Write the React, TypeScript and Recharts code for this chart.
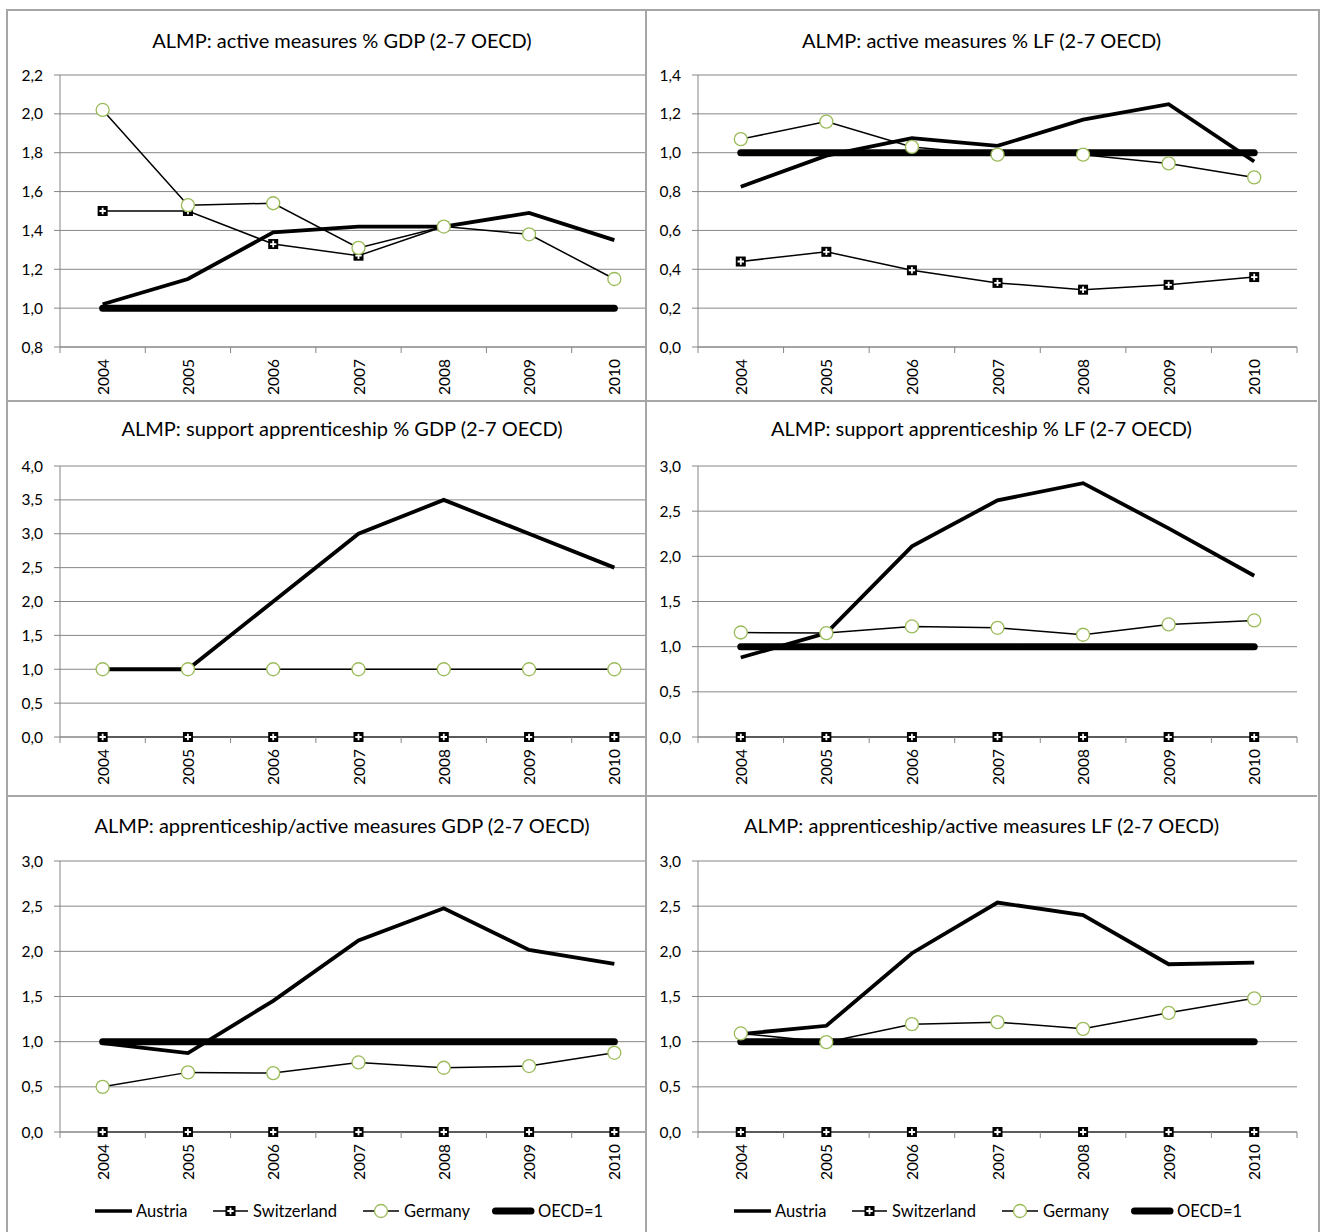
import React from 'react';
import { LineChart, Line, XAxis, YAxis, CartesianGrid } from 'recharts';

const years = [2004, 2005, 2006, 2007, 2008, 2009, 2010];
const xTicks = [2003.5, 2004, 2004.5, 2005, 2005.5, 2006, 2006.5, 2007, 2007.5, 2008, 2008.5, 2009, 2009.5, 2010, 2010.5];

// Panel 1: active measures % GDP
const p1Austria = [1.02, 1.15, 1.39, 1.42, 1.42, 1.49, 1.35];
const p1Switzerland = [1.5, 1.5, 1.33, 1.27, 1.42, null, null];
const p1Germany = [2.02, 1.53, 1.54, 1.31, 1.42, 1.38, 1.15];
const p1Oecd = [1, 1, 1, 1, 1, 1, 1];
const p1Ticks = [0.8, 1.0, 1.2, 1.4, 1.6, 1.8, 2.0, 2.2];

// Panel 2: active measures % LF
const p2Austria = [0.825, 0.985, 1.075, 1.035, 1.17, 1.25, 0.955];
const p2Switzerland = [0.44, 0.49, 0.395, 0.33, 0.295, 0.32, 0.36];
const p2Germany = [1.07, 1.16, 1.03, 0.99, 0.99, 0.945, 0.873];
const p2Oecd = [1, 1, 1, 1, 1, 1, 1];
const p2Ticks = [0, 0.2, 0.4, 0.6, 0.8, 1.0, 1.2, 1.4];

// Panel 3: support apprenticeship % GDP
const p3Austria = [1.0, 1.0, 2.0, 3.0, 3.5, 3.0, 2.5];
const p3Switzerland = [0, 0, 0, 0, 0, 0, 0];
const p3Germany = [1, 1, 1, 1, 1, 1, 1];
const p3Ticks = [0, 0.5, 1.0, 1.5, 2.0, 2.5, 3.0, 3.5, 4.0];

// Panel 4: support apprenticeship % LF
const p4Austria = [0.88, 1.15, 2.11, 2.62, 2.81, 2.31, 1.785];
const p4Switzerland = [0, 0, 0, 0, 0, 0, 0];
const p4Germany = [1.157, 1.15, 1.224, 1.209, 1.132, 1.246, 1.29];
const p4Oecd = [1, 1, 1, 1, 1, 1, 1];
const p4Ticks = [0, 0.5, 1.0, 1.5, 2.0, 2.5, 3.0];

// Panel 5: apprenticeship/active measures GDP
const p5Austria = [0.985, 0.874, 1.452, 2.12, 2.477, 2.016, 1.861];
const p5Switzerland = [0, 0, 0, 0, 0, 0, 0];
const p5Germany = [0.5, 0.66, 0.652, 0.77, 0.711, 0.73, 0.877];
const p5Oecd = [1, 1, 1, 1, 1, 1, 1];
const p5Ticks = [0, 0.5, 1.0, 1.5, 2.0, 2.5, 3.0];

// Panel 6: apprenticeship/active measures LF
const p6Austria = [1.084, 1.176, 1.979, 2.54, 2.4, 1.857, 1.876];
const p6Switzerland = [0, 0, 0, 0, 0, 0, 0];
const p6Germany = [1.091, 0.995, 1.194, 1.216, 1.142, 1.319, 1.48];
const p6Oecd = [1, 1, 1, 1, 1, 1, 1];
const p6Ticks = [0, 0.5, 1.0, 1.5, 2.0, 2.5, 3.0];

const legendLabels = ['Austria', 'Switzerland', 'Germany', 'OECD=1'];

const FONT = 'Lato, "Open Sans", sans-serif';
const GRID = '#868686';
const BORDER = '#a6a6a6';
const GREEN = '#9bbb59';

function buildRows(a: any[], s: any[], g: any[], o: any[] | null) {
  return years.map((y, i) => ({
    year: y,
    austria: a[i],
    switzerland: s[i],
    germany: g[i],
    oecd: o ? o[i] : null,
  }));
}

const rowsLayout = [
  { top: 10, h: 391, plotTop: 75, plotBottom: 347, titleY: 40 },
  { top: 401, h: 395, plotTop: 466, plotBottom: 737, titleY: 428 },
  { top: 796, h: 436, plotTop: 861, plotBottom: 1132, titleY: 825 },
];
const colsLayout = [
  { left: 7, w: 670, clipW: 639, plotLeft: 60, plotRight: 657 },
  { left: 646, w: 671, clipW: 671, plotLeft: 698, plotRight: 1297 },
];

const fmt = (v: number) => v.toFixed(1).replace('.', ',');

const XTick = (props: any) => {
  const { x, y, payload } = props;
  const v = payload.value;
  if (Number.isInteger(v)) {
    return (
      <text
        x={x}
        y={y}
        transform={`rotate(-90 ${x} ${y})`}
        textAnchor="end"
        dominantBaseline="central"
        fontSize={15.5}
        fontFamily={FONT}
        fill="#000"
      >
        {v}
      </text>
    );
  }
  return <line x1={x} x2={x} y1={y - 12} y2={y - 6} stroke={GRID} strokeWidth={1} />;
};

const SquareDot = (props: any) => {
  const { cx, cy } = props;
  if (cx == null || cy == null) return <g />;
  return (
    <g>
      <rect x={cx - 5} y={cy - 5} width={10} height={10} fill="#000" />
      <path d={`M${cx - 3.2} ${cy}H${cx + 3.2}M${cx} ${cy - 3.2}V${cy + 3.2}`} stroke="#fff" strokeWidth={1.8} />
    </g>
  );
};

const CircleDot = (props: any) => {
  const { cx, cy } = props;
  if (cx == null || cy == null) return <g />;
  return <circle cx={cx} cy={cy} r={6.5} fill="#fff" stroke={GREEN} strokeWidth={1.3} />;
};

function LegendRow() {
  const items = [
    { off: 88, icon: <line x1={0} x2={37} y1={8} y2={8} stroke="#000" strokeWidth={3.5} />, w: 40 },
    {
      off: 206,
      icon: (
        <g>
          <line x1={0} x2={35} y1={8} y2={8} stroke="#000" strokeWidth={1.5} />
          <SquareDot cx={17.5} cy={8} />
        </g>
      ),
      w: 39,
    },
    {
      off: 356,
      icon: (
        <g>
          <line x1={0} x2={36} y1={8} y2={8} stroke="#000" strokeWidth={1.5} />
          <CircleDot cx={18} cy={8} />
        </g>
      ),
      w: 40,
    },
    { off: 485, icon: <line x1={3.5} x2={39} y1={8} y2={8} stroke="#000" strokeWidth={7} strokeLinecap="round" />, w: 45 },
  ];
  return (
    <>
      {items.map((it, i) => (
        <div
          key={i}
          style={{
            position: 'absolute',
            left: it.off,
            top: 1211 - 796 - 10,
            height: 20,
            display: 'flex',
            alignItems: 'center',
            whiteSpace: 'nowrap',
            fontSize: 16.5,
            fontFamily: FONT,
            color: '#000',
          }}
        >
          <svg width={it.w} height={16} style={{ overflow: 'visible' }}>
            {it.icon}
          </svg>
          <span style={{ marginLeft: 1 }}>{legendLabels[i]}</span>
        </div>
      ))}
    </>
  );
}

function Panel(props: {
  title: string;
  data: any[];
  ticks: number[];
  row: number;
  col: number;
  showOecd: boolean;
  legend?: boolean;
}) {
  const r = rowsLayout[props.row];
  const c = colsLayout[props.col];
  const xAxisH = 40;
  const margin = {
    top: r.plotTop - r.top,
    right: c.left + c.w - c.plotRight,
    bottom: r.top + r.h - r.plotBottom - xAxisH,
    left: 0,
  };
  const t = props.ticks;
  return (
    <div
      style={{
        position: 'absolute',
        left: c.left,
        top: r.top,
        width: c.clipW,
        height: r.h,
        overflow: 'hidden',
      }}
    >
      <div style={{ position: 'absolute', left: 0, top: 0, width: c.w, height: r.h }}>
        <LineChart width={c.w} height={r.h} data={props.data} margin={margin}>
          <CartesianGrid vertical={false} stroke={GRID} strokeWidth={1} />
          <XAxis
            dataKey="year"
            type="number"
            domain={[2003.5, 2010.5]}
            ticks={xTicks}
            interval={0}
            height={xAxisH}
            tickLine={false}
            tickSize={6}
            tickMargin={6}
            axisLine={{ stroke: GRID }}
            tick={(p: any) => <XTick {...p} />}
          />
          <YAxis
            type="number"
            domain={[t[0], t[t.length - 1]]}
            ticks={t}
            interval={0}
            width={c.plotLeft - c.left}
            tickSize={6}
            tickMargin={11}
            tickLine={{ stroke: GRID }}
            axisLine={{ stroke: GRID }}
            tickFormatter={fmt}
            tick={{ fill: '#000', fontSize: 15.5, fontFamily: FONT }}
          />
          <Line
            dataKey="austria"
            stroke="#000"
            strokeWidth={3.8}
            dot={false}
            activeDot={false}
            isAnimationActive={false}
          />
          <Line
            dataKey="switzerland"
            stroke="#000"
            strokeWidth={1.5}
            dot={(p: any) => <SquareDot key={p.index} {...p} />}
            activeDot={false}
            isAnimationActive={false}
          />
          <Line
            dataKey="germany"
            stroke="#000"
            strokeWidth={1.5}
            dot={(p: any) => <CircleDot key={p.index} {...p} />}
            activeDot={false}
            isAnimationActive={false}
          />
          {props.showOecd && (
            <Line
              dataKey="oecd"
              stroke="#000"
              strokeWidth={7}
              strokeLinecap="round"
              dot={false}
              activeDot={false}
              isAnimationActive={false}
            />
          )}
        </LineChart>
        <div
          style={{
            position: 'absolute',
            left: 0,
            width: c.w,
            top: r.titleY - r.top - 12,
            height: 24,
            lineHeight: '24px',
            textAlign: 'center',
            fontSize: 20,
            fontFamily: FONT,
            color: '#000',
            whiteSpace: 'nowrap',
          }}
        >
          {props.title}
        </div>
        {props.legend && <LegendRow />}
      </div>
    </div>
  );
}

export default function App() {
  return (
    <div style={{ position: 'absolute', left: 0, top: 0, width: 1320, height: 1232, background: '#fff', overflow: 'hidden', fontFamily: FONT }}>
      <Panel title="ALMP: active measures % GDP (2-7 OECD)" data={buildRows(p1Austria, p1Switzerland, p1Germany, p1Oecd)} ticks={p1Ticks} row={0} col={0} showOecd />
      <Panel title="ALMP: active measures % LF (2-7 OECD)" data={buildRows(p2Austria, p2Switzerland, p2Germany, p2Oecd)} ticks={p2Ticks} row={0} col={1} showOecd />
      <Panel title="ALMP: support apprenticeship % GDP (2-7 OECD)" data={buildRows(p3Austria, p3Switzerland, p3Germany, null)} ticks={p3Ticks} row={1} col={0} showOecd={false} />
      <Panel title="ALMP: support apprenticeship % LF (2-7 OECD)" data={buildRows(p4Austria, p4Switzerland, p4Germany, p4Oecd)} ticks={p4Ticks} row={1} col={1} showOecd />
      <Panel title="ALMP: apprenticeship/active measures GDP (2-7 OECD)" data={buildRows(p5Austria, p5Switzerland, p5Germany, p5Oecd)} ticks={p5Ticks} row={2} col={0} showOecd legend />
      <Panel title="ALMP: apprenticeship/active measures LF (2-7 OECD)" data={buildRows(p6Austria, p6Switzerland, p6Germany, p6Oecd)} ticks={p6Ticks} row={2} col={1} showOecd legend />
      {/* panel frame */}
      <div style={{ position: 'absolute', left: 6, top: 9, width: 1310, height: 1240, borderTop: `2px solid ${BORDER}`, borderLeft: `2px solid ${BORDER}`, borderRight: `2px solid ${BORDER}` }} />
      <div style={{ position: 'absolute', left: 7, top: 400, width: 1310, height: 0, borderTop: `2px solid ${BORDER}` }} />
      <div style={{ position: 'absolute', left: 7, top: 795, width: 1310, height: 0, borderTop: `2px solid ${BORDER}` }} />
      <div style={{ position: 'absolute', left: 645, top: 10, width: 0, height: 1232, borderLeft: `2px solid ${BORDER}` }} />
    </div>
  );
}
